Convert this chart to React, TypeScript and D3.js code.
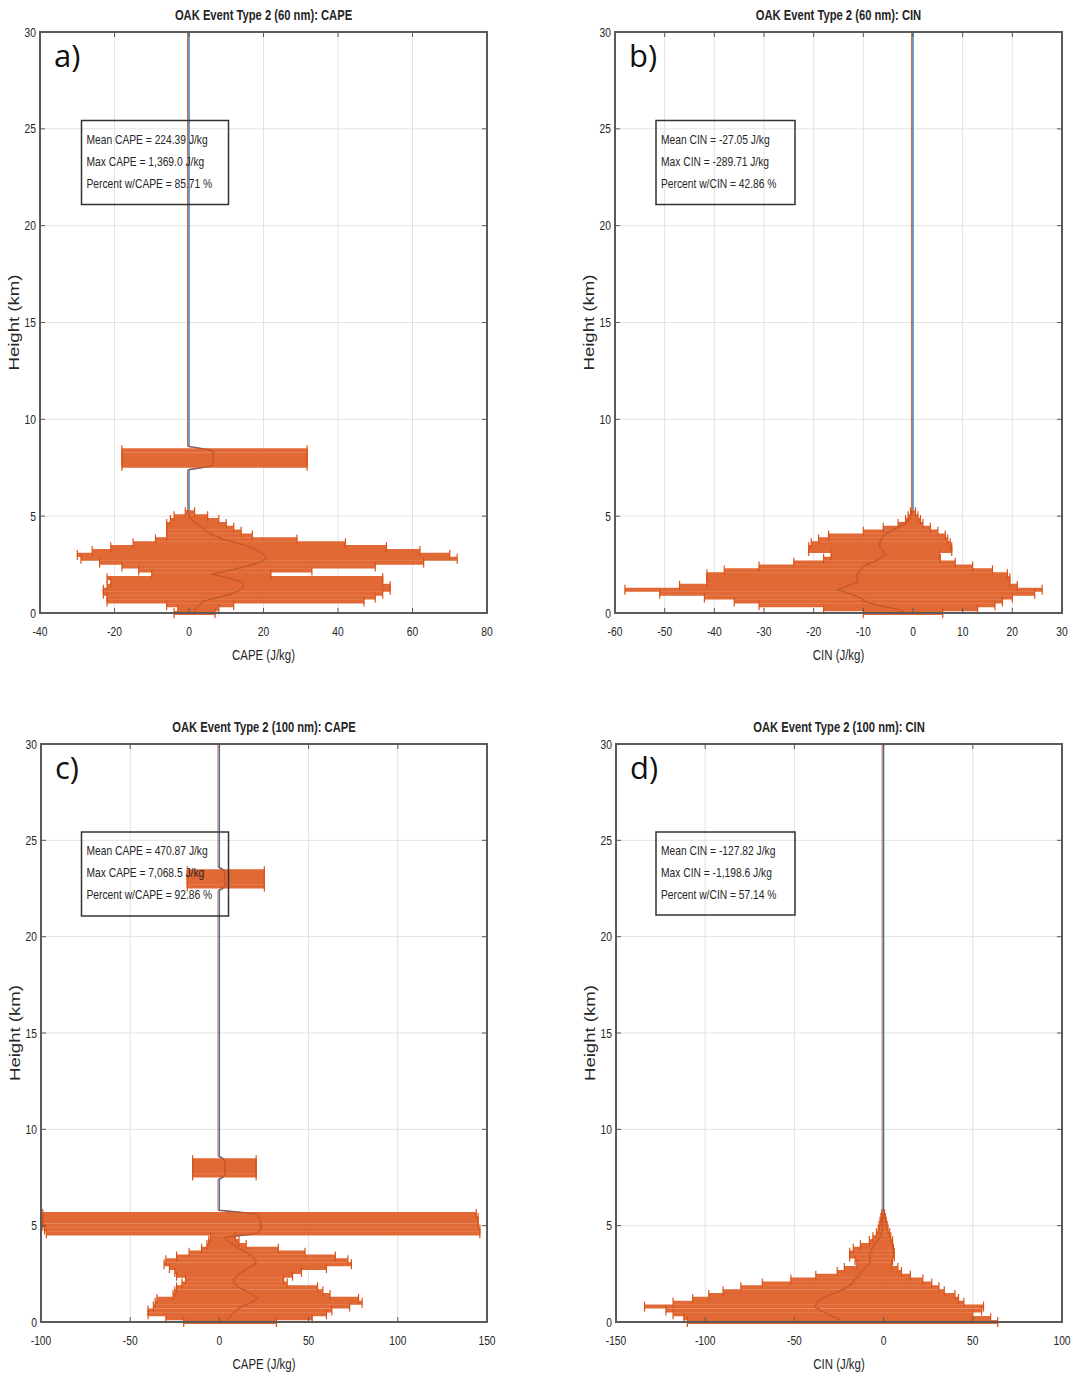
import React from 'react';
import * as d3 from 'd3';

// ---------- Panel a: 60 nm CAPE ----------
const heightsA = [0, 0.2, 0.4, 0.6, 0.8, 1, 1.2, 1.4, 1.6, 1.8, 2, 2.2, 2.4, 2.6, 2.8, 3, 3.2, 3.4, 3.6, 3.8, 4, 4.2, 4.4, 4.6, 4.8, 5, 5.2, 5.4, 7.4, 7.6, 7.8, 8, 8.2, 8.4, 8.6, 30];
const meanA = [1.5, 2, 3, 4, 8, 12, 14, 15, 14.5, 11, 6.5, 11, 15.5, 19, 21, 20.5, 19, 17, 13.5, 9.5, 7, 5, 3.8, 2.5, 1.2, 0.4, 0, 0, 0, 6.5, 6.8, 6.8, 6.8, 6.5, 0, 0];
const lowA = [-4, -3, -6, -22, -22, -23, -23, -22, -21, -22, -10, -13.5, -18, -24, -29, -30, -26, -21, -15, -9, -6, -6, -6, -6, -5, -4, -1, 0, 0, -18, -18, -18, -18, -18, 0, 0];
const highA = [7, 8, 12, 47, 50, 52, 54, 54, 52, 52, 22, 33, 50, 63, 72, 70, 62, 53, 42, 29, 17, 14, 12, 10, 8, 5, 1.5, 0, 0, 31.7, 31.7, 31.7, 31.7, 31.7, 0, 0];

// ---------- Panel b: 60 nm CIN ----------
const heightsB = [0, 0.2, 0.4, 0.6, 0.8, 1, 1.2, 1.4, 1.6, 1.8, 2, 2.2, 2.4, 2.6, 2.8, 3, 3.2, 3.4, 3.6, 3.8, 4, 4.2, 4.4, 4.6, 4.8, 5, 5.2, 5.4, 30];
const meanB = [-1, -3, -7, -9.5, -10.5, -12.5, -15, -13, -11, -11, -11, -10.5, -10, -8, -6.5, -5.5, -5.8, -6.5, -6.5, -6.2, -5.8, -4.5, -3, -1.5, -0.6, -0.2, 0, 0, 0];
const lowB = [-10, -18, -31, -36, -42, -51, -58, -47, -41.5, -41.5, -41.5, -38, -31, -24, -18, -16.5, -21, -21, -20.5, -19, -17, -10, -6, -3, -1.5, -1, -0.5, 0, 0];
const highB = [6, 13, 16.5, 18, 20, 24.5, 26, 21, 19.5, 19.5, 19, 16, 12, 8.5, 5.5, 5.3, 7.8, 7.8, 7.5, 7, 6.5, 5, 3.5, 2, 1.5, 1, 0.5, 0, 0];

// ---------- Panel c: 100 nm CAPE ----------
const heightsC = [0, 0.2, 0.4, 0.6, 0.8, 1, 1.2, 1.4, 1.6, 1.8, 2, 2.2, 2.4, 2.6, 2.8, 3, 3.2, 3.4, 3.6, 3.8, 4, 4.2, 4.4, 4.6, 4.8, 5, 5.2, 5.4, 5.6, 5.8, 7.4, 7.6, 7.8, 8, 8.2, 8.4, 8.6, 22.4, 22.6, 22.8, 23, 23.2, 23.4, 23.6, 30];
const meanC = [4, 6, 7.5, 10, 13, 18, 22, 20, 16, 11, 9, 8.5, 10.5, 13, 17, 20.6, 20.6, 19, 16, 12, 8.5, 5.5, 3.7, 22, 23.5, 24, 23.5, 23, 22.4, 0, 0, 3.7, 3.7, 3.7, 3.7, 3.7, 0, 0, 3.7, 3.7, 3.7, 3.7, 3.7, 0, 0];
const lowC = [-20, -30, -40, -40, -37, -36, -35, -26, -25, -24, -21, -19, -24, -25, -28, -31, -30, -24, -17, -10, -7, -6, -5, -97, -98, -99, -99, -99, -99, 0, 0, -15, -15, -15, -15, -15, 0, 0, -18, -18, -18, -18, -18, 0, 0];
const highC = [32, 52, 60, 63, 73, 80, 78, 62, 58, 55, 38, 36, 41, 46, 60, 74, 72, 65, 48, 33, 15, 11, 9, 146, 146, 145, 145, 145, 144, 0, 0, 20.6, 20.6, 20.6, 20.6, 20.6, 0, 0, 25.2, 25.2, 25.2, 25.2, 25.2, 0, 0];

// ---------- Panel d: 100 nm CIN ----------
const heightsD = [0, 0.2, 0.4, 0.6, 0.8, 1, 1.2, 1.4, 1.6, 1.8, 2, 2.2, 2.4, 2.6, 2.8, 3, 3.2, 3.4, 3.6, 3.8, 4, 4.2, 4.4, 4.6, 4.8, 5, 5.2, 5.4, 5.6, 5.8, 30];
const meanD = [-22, -26, -30, -35, -38, -37, -34, -30, -24, -20, -17, -15.5, -13.5, -12, -10, -7.5, -7, -7, -7, -6, -4.5, -3, -1.5, -0.5, -0.2, 0, 0, 0, 0, 0, 0];
const lowD = [-110, -112, -118, -122, -134, -118, -107, -98, -90, -80, -68, -52, -38, -26, -22, -15, -16, -19, -19, -17, -13, -8, -6, -4, -3, -2.5, -2, -1.5, -1, 0, 0];
const highD = [64, 60, 50, 55, 56, 45, 42, 40, 34, 31, 27, 22, 15, 10, 8, 4.5, 5, 6, 6, 5.5, 5, 5, 4, 3.4, 2.5, 2, 1.5, 1, 0.5, 0, 0];

// ---------- ticks & labels ----------
const yTicks = [0, 5, 10, 15, 20, 25, 30];
const xTicksA = [-40, -20, 0, 20, 40, 60, 80];
const xTicksB = [-60, -50, -40, -30, -20, -10, 0, 10, 20, 30];
const xTicksC = [-100, -50, 0, 50, 100, 150];
const xTicksD = [-150, -100, -50, 0, 50, 100];

const statsA = ['Mean CAPE = 224.39 J/kg', 'Max CAPE = 1,369.0 J/kg', 'Percent w/CAPE = 85.71 %'];
const statsB = ['Mean CIN = -27.05 J/kg', 'Max CIN = -289.71 J/kg', 'Percent w/CIN = 42.86 %'];
const statsC = ['Mean CAPE = 470.87 J/kg', 'Max CAPE = 7,068.5 J/kg', 'Percent w/CAPE = 92.86 %'];
const statsD = ['Mean CIN = -127.82 J/kg', 'Max CIN = -1,198.6 J/kg', 'Percent w/CIN = 57.14 %'];

const FONT = "'Liberation Sans', Arial, sans-serif";
const SX = 0.79;
const ORANGE = '#E0652F';
const CAP = '#D95319';
const MEANC = '#BE5020';
const BLUE = '#3A78B5';
const AXIS = '#5a5a5a';
const TXT = '#262626';

function SText(props: any) {
  const { x, y, anchor = 'start', size = 13, weight = 'normal', children, sx = SX } = props;
  return (
    <text
      transform={`translate(${x},${y}) scale(${sx},1)`}
      textAnchor={anchor}
      fontSize={size}
      fontWeight={weight}
      fontFamily={FONT}
      fill={TXT}
    >
      {children}
    </text>
  );
}

function Panel(props: any) {
  const { left, right, top, bottom, xDomain, xTicks, title, xLabel, letter, stats, box, heights, mean, low, high } = props;
  const x = d3.scaleLinear().domain(xDomain).range([left, right]);
  const y = d3.scaleLinear().domain([0, 30]).range([bottom, top]);
  const levelPx = Math.abs(y(0.2) - y(0));
  const pts = heights.map((h: number, i: number) => ({ h, m: mean[i], lo: low[i], hi: high[i] }));
  const bars = pts.filter((p: any) => p.hi - p.lo > 0);
  const line = d3.line<any>().x((d) => x(d.m)).y((d) => y(d.h));
  const path = line(pts) || '';
  const capH = 5;
  const tickLen = 5;
  const cx = (left + right) / 2;
  const cy = (top + bottom) / 2;
  return (
    <g>
      {/* grid */}
      {xTicks.map((t: number) => (
        <line key={'gx' + t} x1={x(t)} x2={x(t)} y1={top} y2={bottom} stroke="#e2e2e2" strokeWidth={1} />
      ))}
      {yTicks.map((t) => (
        <line key={'gy' + t} x1={left} x2={right} y1={y(t)} y2={y(t)} stroke="#e2e2e2" strokeWidth={1} />
      ))}
      {/* blue mean profile */}
      <path d={path} fill="none" stroke={BLUE} strokeWidth={1.4} />
      {/* error bars */}
      {bars.map((p: any, i: number) => (
        <line key={'b' + i} x1={x(p.lo)} x2={x(p.hi)} y1={y(p.h)} y2={y(p.h)} stroke={ORANGE} strokeWidth={levelPx + 0.2} opacity={0.97} />
      ))}
      {bars.map((p: any, i: number) => (
        <g key={'c' + i}>
          <line x1={x(p.lo)} x2={x(p.lo)} y1={y(p.h) - capH} y2={y(p.h) + capH} stroke={CAP} strokeWidth={1.2} />
          <line x1={x(p.hi)} x2={x(p.hi)} y1={y(p.h) - capH} y2={y(p.h) + capH} stroke={CAP} strokeWidth={1.2} />
        </g>
      ))}
      {/* orange mean line */}
      <path d={path} fill="none" stroke={MEANC} strokeWidth={0.9} transform="translate(-1.4,0)" />
      {/* axes box */}
      <rect x={left} y={top} width={right - left} height={bottom - top} fill="none" stroke={AXIS} strokeWidth={2} />
      {xTicks.map((t: number) => (
        <g key={'tx' + t}>
          <line x1={x(t)} x2={x(t)} y1={bottom} y2={bottom - tickLen} stroke={AXIS} strokeWidth={1} />
          <line x1={x(t)} x2={x(t)} y1={top} y2={top + tickLen} stroke={AXIS} strokeWidth={1} />
          <SText x={x(t)} y={bottom + 23} anchor="middle" size={13}>{String(t)}</SText>
        </g>
      ))}
      {yTicks.map((t) => (
        <g key={'ty' + t}>
          <line x1={left} x2={left + tickLen} y1={y(t)} y2={y(t)} stroke={AXIS} strokeWidth={1} />
          <line x1={right} x2={right - tickLen} y1={y(t)} y2={y(t)} stroke={AXIS} strokeWidth={1} />
          <SText x={left - 4} y={y(t) + 4.5} anchor="end" size={13}>{String(t)}</SText>
        </g>
      ))}
      {/* title & labels */}
      <SText x={cx} y={top - 12} anchor="middle" size={14.2} weight="bold">{title}</SText>
      <SText x={cx} y={bottom + 47} anchor="middle" size={14.5}>{xLabel}</SText>
      <text
        transform={`translate(${left - 21},${cy}) rotate(-90)`}
        textAnchor="middle"
        fontSize={14}
        fontFamily={FONT}
        fill={TXT}
        textLength={96}
        lengthAdjust="spacingAndGlyphs"
      >
        Height (km)
      </text>
      {/* panel letter */}
      <text x={left + 14} y={top + 35} fontSize={31} fontFamily="'Open Sans', Lato, sans-serif" fill="#111">{letter}</text>
      {/* stats box */}
      <rect x={box.x} y={box.y} width={box.w} height={box.h} fill="none" stroke="#333" strokeWidth={1.5} />
      {stats.map((s: string, i: number) => (
        <SText key={'s' + i} x={box.x + 5} y={box.y + 23 + i * 22} size={13}>{s}</SText>
      ))}
    </g>
  );
}

export default function App() {
  return (
    <svg width={1073} height={1380} style={{ position: 'absolute', left: 0, top: 0, background: '#fff' }}>
      <rect x={0} y={0} width={1073} height={1380} fill="#fff" />
      <Panel
        left={40} right={487} top={32} bottom={613}
        xDomain={[-40, 80]} xTicks={xTicksA}
        title="OAK Event Type 2 (60 nm): CAPE" xLabel="CAPE (J/kg)" letter="a)"
        stats={statsA} box={{ x: 81.5, y: 120.5, w: 147, h: 84 }}
        heights={heightsA} mean={meanA} low={lowA} high={highA}
      />
      <Panel
        left={615} right={1062} top={32} bottom={613}
        xDomain={[-60, 30]} xTicks={xTicksB}
        title="OAK Event Type 2 (60 nm): CIN" xLabel="CIN (J/kg)" letter="b)"
        stats={statsB} box={{ x: 656, y: 120.5, w: 139, h: 84 }}
        heights={heightsB} mean={meanB} low={lowB} high={highB}
      />
      <Panel
        left={41} right={487} top={744} bottom={1322}
        xDomain={[-100, 150]} xTicks={xTicksC}
        title="OAK Event Type 2 (100 nm): CAPE" xLabel="CAPE (J/kg)" letter="c)"
        stats={statsC} box={{ x: 81.5, y: 832, w: 147, h: 84 }}
        heights={heightsC} mean={meanC} low={lowC} high={highC}
      />
      <Panel
        left={616} right={1062} top={744} bottom={1322}
        xDomain={[-150, 100]} xTicks={xTicksD}
        title="OAK Event Type 2 (100 nm): CIN" xLabel="CIN (J/kg)" letter="d)"
        stats={statsD} box={{ x: 656, y: 832, w: 139, h: 83 }}
        heights={heightsD} mean={meanD} low={lowD} high={highD}
      />
    </svg>
  );
}
